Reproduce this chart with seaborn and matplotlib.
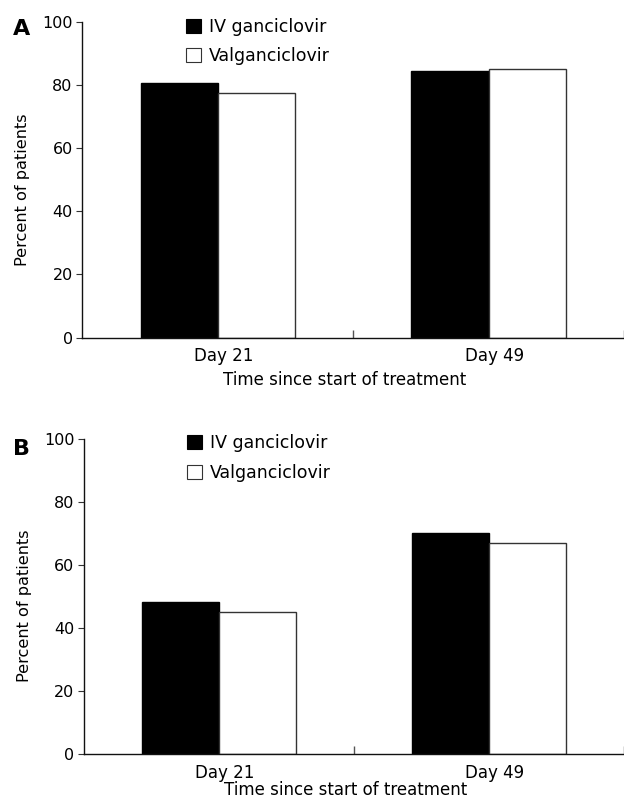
import matplotlib
matplotlib.use('Agg')
import matplotlib.pyplot as plt
import matplotlib.transforms as mtransforms
from matplotlib.patches import Patch
import seaborn as sns
import pandas as pd

# values
days = ['Day 21', 'Day 49']
drugs = ['IV ganciclovir', 'Valganciclovir']
panel_a_iv = [80.7, 84.5]
panel_a_val = [77.4, 85.1]
panel_b_iv = [48.2, 70.2]
panel_b_val = [45.0, 66.9]
yticks = [0, 20, 40, 60, 80, 100]

sns.set_style('ticks')
plt.rcParams['font.family'] = ['DejaVu Sans']
plt.rcParams['font.size'] = 12
plt.rcParams['text.color'] = 'black'

def makeFrame(iv, val):
    rows = []
    for d, a, b in zip(days, iv, val):
        rows.append({'day': d, 'drug': drugs[0], 'pct': a})
        rows.append({'day': d, 'drug': drugs[1], 'pct': b})
    return pd.DataFrame(rows)

def drawPanel(ax, df, letter, fig, letter_y, xlabel_y, legend_y):
    sns.barplot(data=df, x='day', y='pct', hue='drug', hue_order=drugs,
                palette=['black', 'white'], width=0.57, saturation=1,
                legend=False, ax=ax)
    # edges: black bars black, white bars dark grey
    for c, ec in zip(ax.containers, ['black', '#333333']):
        for p in c:
            p.set_edgecolor(ec)
            p.set_linewidth(1.0)

    ax.set_xlim(-0.5, 1.5)
    ax.set_ylim(0, 100)
    ax.set_yticks(yticks)
    sns.despine(ax=ax)
    for s in ['left', 'bottom']:
        ax.spines[s].set_linewidth(1.0)
        ax.spines[s].set_color('#111111')

    ax.tick_params(axis='y', direction='out', length=4.5, width=0.8,
                   color='#333333', pad=2.5, labelsize=11.5, labelcolor='black')
    ax.tick_params(axis='x', which='major', length=0, pad=7, labelsize=12,
                   labelcolor='black')
    ax.set_xticks([0.5, 1.5], minor=True)
    ax.tick_params(axis='x', which='minor', direction='in', length=5.5,
                   width=1.0, color='#555555')

    # shift category labels a bit to the right like the original
    offset = mtransforms.ScaledTranslation(6 / 100, 0, fig.dpi_scale_trans)
    for lbl in ax.get_xticklabels():
        lbl.set_transform(lbl.get_transform() + offset)

    ax.set_xlabel('Time since start of treatment', fontsize=12, color='black')
    ax.xaxis.set_label_coords(0.484, xlabel_y)
    ax.xaxis.label.set_va('top')
    ax.set_ylabel('Percent of patients', fontsize=11.6, color='black')
    ax.yaxis.set_label_coords(-0.097, 0.47)

    handles = [Patch(facecolor='black', edgecolor='black', lw=0.8),
               Patch(facecolor='white', edgecolor='#333333', lw=0.8)]
    ax.legend(handles, drugs, loc='upper left', bbox_to_anchor=(0.191, legend_y),
              frameon=False, borderpad=0, borderaxespad=0, handlelength=0.87,
              handleheight=0.87, handletextpad=0.45, labelspacing=0.65,
              fontsize=12.5, labelcolor='black')

    fig.text(0.034, letter_y, letter, fontsize=16, fontweight='bold',
             ha='center', va='baseline', color='black')

fig = plt.figure(figsize=(6.24, 8), dpi=100)
ax_a = fig.add_axes([0.132, 0.578, 0.868, 0.3945])
ax_b = fig.add_axes([0.135, 0.0575, 0.865, 0.39375])

drawPanel(ax_a, makeFrame(panel_a_iv, panel_a_val), 'A', fig, 0.956, -0.106, 1.013)
drawPanel(ax_b, makeFrame(panel_b_iv, panel_b_val), 'B', fig, 0.431, -0.086, 1.015)

fig.savefig('out.png', dpi=100)
